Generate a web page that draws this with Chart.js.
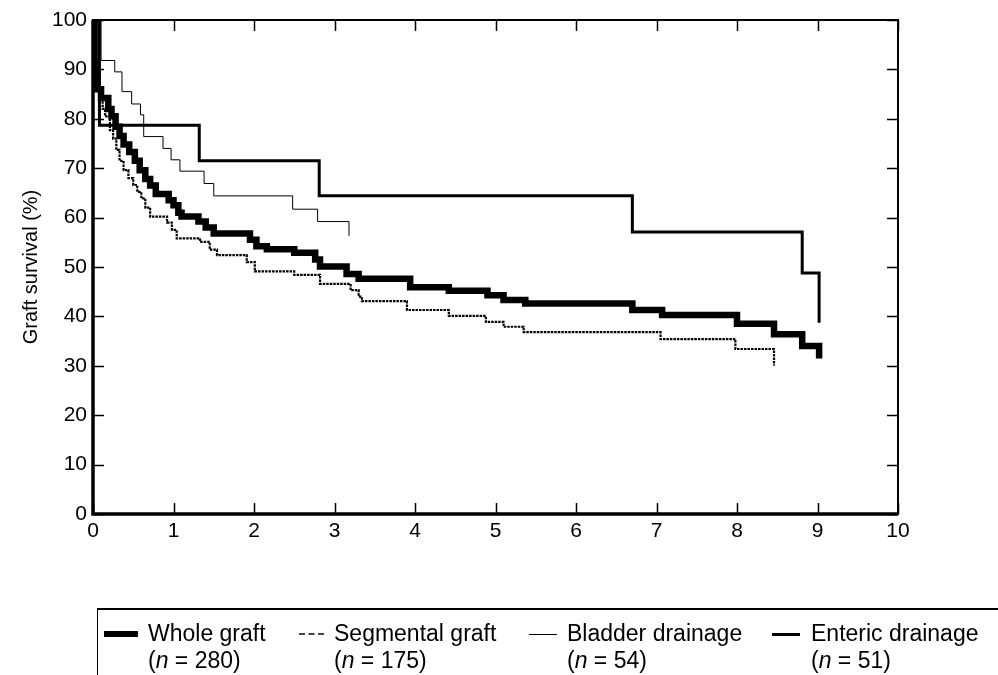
<!DOCTYPE html>
<html>
<head>
<meta charset="utf-8">
<script src="https://cdn.jsdelivr.net/npm/chart.js@4.4.1/dist/chart.umd.min.js"></script>
<style>
  body { margin: 0; background: #fff; }
  #wrap { position: relative; width: 998px; height: 675px; overflow: hidden; }
  #legend {
    position: absolute; left: 97px; top: 608px; width: 920px; height: 80px;
    border-left: 1.5px solid #000; border-top: 2px solid #000;
    font-family: "Liberation Sans", Arial, sans-serif; font-size: 23px; color: #000;
  }
  .sw { position: absolute; top: 24px; height: 0; }
  .lb { position: absolute; top: 10px; white-space: nowrap; line-height: 27px; }
</style>
</head>
<body>
<div id="wrap">
  <canvas id="myChart" width="998" height="675"></canvas>
  <div id="legend"></div>
</div>
<script>
// survival curves (years, % surviving)
const wholeX = [0, 0.02, 0.05, 0.1, 0.19, 0.23, 0.28, 0.33, 0.38, 0.45, 0.52, 0.58, 0.65, 0.71, 0.78, 0.94, 1.0, 1.06, 1.1, 1.31, 1.4, 1.5, 1.95, 2.03, 2.16, 2.5, 2.76, 2.82, 3.15, 3.3, 3.94, 4.42, 4.9, 5.1, 5.37, 6.7, 7.07, 8.0, 8.46, 8.81, 9.02];
const wholeY = [100, 90, 86, 84.2, 82, 80.5, 78.4, 76.5, 74.8, 73.3, 71.5, 69.6, 67.8, 66.5, 64.8, 63.5, 62.5, 61, 60.2, 59.2, 58, 56.8, 55.5, 54.2, 53.6, 52.9, 51.5, 50.1, 48.6, 47.6, 45.9, 45.2, 44.3, 43.3, 42.6, 41.3, 40.3, 38.5, 36.4, 34.0, 31.5];

const segX = [0, 0.02, 0.05, 0.08, 0.12, 0.15, 0.21, 0.25, 0.29, 0.33, 0.38, 0.44, 0.5, 0.55, 0.6, 0.65, 0.71, 0.92, 0.98, 1.04, 1.33, 1.45, 1.54, 1.91, 2.01, 2.5, 2.82, 3.2, 3.3, 3.34, 3.9, 4.42, 4.88, 5.1, 5.35, 7.05, 7.98, 8.46];
const segY = [100, 92, 88, 85.5, 82, 80.5, 77.7, 76, 73.7, 71.5, 69.6, 68, 66.6, 65.2, 63.9, 62, 60.2, 59, 57.5, 55.8, 55.1, 53.5, 52.4, 51, 49.1, 48.4, 46.6, 45.3, 44, 43.1, 41.3, 40.1, 38.9, 37.9, 36.8, 35.4, 33.4, 30.0];

const bladderX = [0, 0.1, 0.27, 0.36, 0.48, 0.59, 0.63, 0.87, 0.97, 1.08, 1.38, 1.5, 2.48, 2.79, 3.18];
const bladderY = [100, 91.8, 89.5, 85.5, 83, 80.8, 76.4, 74.0, 71.7, 69.4, 66.9, 64.4, 61.7, 59.2, 56.3];

const entericX = [0, 0.08, 1.32, 2.81, 6.7, 8.81, 9.02];
const entericY = [100, 78.7, 71.5, 64.4, 57.1, 48.8, 38.7];

const seriesNames = ['Whole graft', 'Segmental graft', 'Bladder drainage', 'Enteric drainage'];
const seriesN = [280, 175, 54, 51];

const xTicks = [0, 1, 2, 3, 4, 5, 6, 7, 8, 9, 10];
const yTicks = [0, 10, 20, 30, 40, 50, 60, 70, 80, 90, 100];

const FONT = '"Liberation Sans", Arial, sans-serif';

const pts = (xs, ys) => xs.map((v, i) => ({ x: v, y: ys[i] }));

// box round the plot with inward ticks on all four sides
const frame = {
    id: 'frame',
    afterDatasetsDraw(chart) {
        const { ctx, chartArea: a, scales: { x, y } } = chart;
        ctx.save();
        ctx.strokeStyle = '#000';
        ctx.lineWidth = 2;
        ctx.strokeRect(a.left, a.top, a.right - a.left, a.bottom - a.top);
        ctx.lineWidth = 3.5;
        ctx.beginPath();
        ctx.moveTo(a.left, a.top);
        ctx.lineTo(a.left, a.bottom);
        ctx.lineTo(a.right, a.bottom);
        ctx.stroke();
        ctx.lineWidth = 1.5;
        ctx.beginPath();
        xTicks.forEach(t => {
            const px = Math.round(x.getPixelForValue(t)) + 0.5;
            ctx.moveTo(px, a.bottom); ctx.lineTo(px, a.bottom - 11);
            ctx.moveTo(px, a.top); ctx.lineTo(px, a.top + 11);
        });
        yTicks.forEach(t => {
            const py = Math.round(y.getPixelForValue(t)) + 0.5;
            ctx.moveTo(a.left, py); ctx.lineTo(a.left + 11, py);
            ctx.moveTo(a.right, py); ctx.lineTo(a.right - 11, py);
        });
        ctx.stroke();
        ctx.restore();
    }
};

const ctx = document.getElementById('myChart');

new Chart(ctx, {
    type: 'line',
    data: {
        datasets: [
            { label: seriesNames[0], data: pts(wholeX, wholeY), borderColor: '#000', borderWidth: 6.5, stepped: true },
            { label: seriesNames[1], data: pts(segX, segY), borderColor: '#000', borderWidth: 2.2, borderDash: [2.5, 1], stepped: true },
            { label: seriesNames[2], data: pts(bladderX, bladderY), borderColor: '#000', borderWidth: 1, stepped: true },
            { label: seriesNames[3], data: pts(entericX, entericY), borderColor: '#000', borderWidth: 3, stepped: true }
        ]
    },
    options: {
        responsive: false,
        animation: false,
        elements: { point: { radius: 0 }, line: { tension: 0, borderCapStyle: 'butt' } },
        layout: { padding: { left: 0, right: 100, top: 20, bottom: 121 } },
        plugins: { legend: { display: false }, tooltip: { enabled: false } },
        scales: {
            x: {
                type: 'linear', min: 0, max: 10,
                grid: { display: false, drawTicks: false }, border: { display: false },
                ticks: { stepSize: 1, color: '#000', padding: 5, font: { family: FONT, size: 21 } },
                afterFit(s) { s.height = 40; }
            },
            y: {
                min: 0, max: 100,
                grid: { display: false, drawTicks: false }, border: { display: false },
                ticks: { stepSize: 10, color: '#000', padding: 6, font: { family: FONT, size: 21 } },
                title: { display: true, text: 'Graft survival (%)', color: '#000', padding: { top: 19, bottom: 0 }, font: { family: FONT, size: 20 } },
                afterFit(s) { s.width = 93; }
            }
        }
    },
    plugins: [frame]
});

// legend under the plot, two lines per entry
const lg = document.getElementById('legend');
const swatches = [
    { left: 6, width: 34, style: 'border-top:6px solid #000;margin-top:-3px' },
    { left: 201, width: 25, style: 'border-top:2px dashed #444;margin-top:-1px' },
    { left: 431, width: 28, style: 'border-top:1px solid #000' },
    { left: 674, width: 28, style: 'border-top:3px solid #000;margin-top:-1px' }
];
const textLeft = [50, 236, 469, 713];
seriesNames.forEach((name, i) => {
    const sw = document.createElement('div');
    sw.className = 'sw';
    sw.style.cssText = 'left:' + swatches[i].left + 'px;width:' + swatches[i].width + 'px;' + swatches[i].style;
    lg.appendChild(sw);
    const lb = document.createElement('div');
    lb.className = 'lb';
    lb.style.left = textLeft[i] + 'px';
    lb.innerHTML = name + '<br>(<i>n</i> = ' + seriesN[i] + ')';
    lg.appendChild(lb);
});
</script>
</body>
</html>
